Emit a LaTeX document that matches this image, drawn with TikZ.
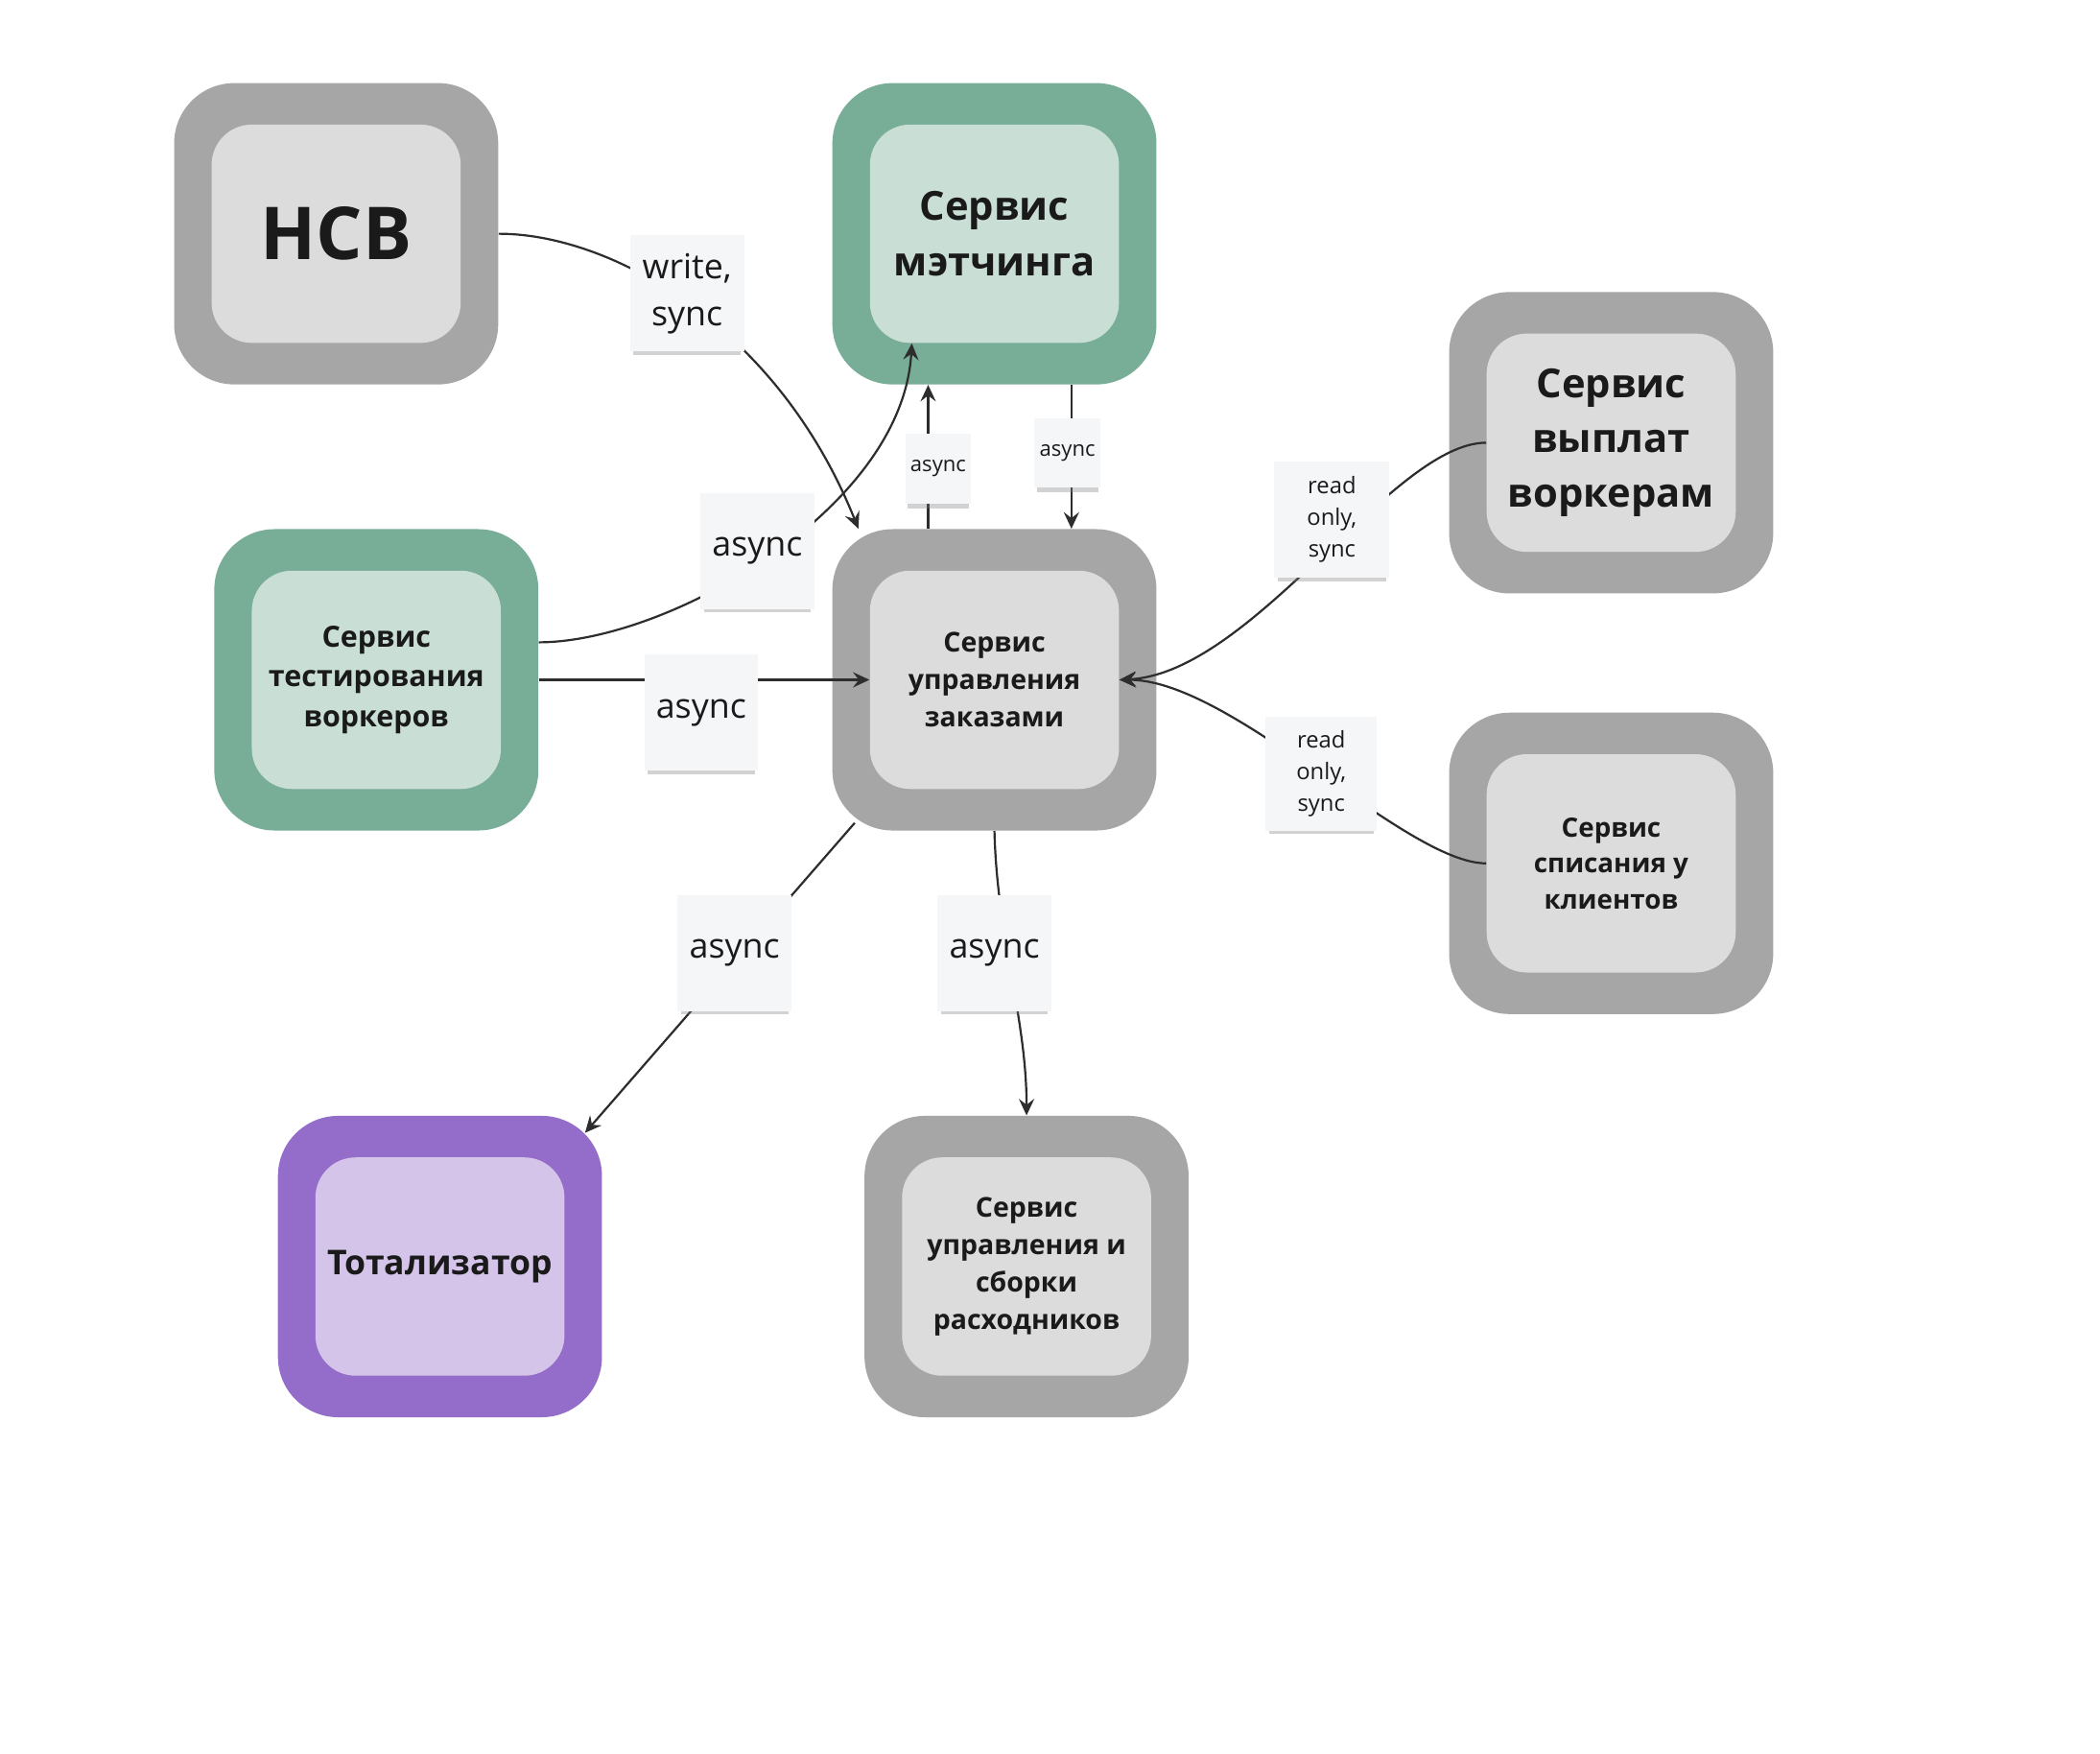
\documentclass[tikz,border=0pt]{standalone}
\usepackage{fontspec}
\setmainfont{Open Sans}
\usetikzlibrary{arrows.meta, shadows, calc}
\definecolor{greyout}{RGB}{166,166,166}
\definecolor{greyin}{RGB}{220,220,220}
\definecolor{greenout}{RGB}{120,173,152}
\definecolor{greenin}{RGB}{201,223,214}
\definecolor{purpleout}{RGB}{148,108,201}
\definecolor{purplein}{RGB}{213,196,233}
\definecolor{notefill}{RGB}{245,246,248}
\definecolor{linecol}{RGB}{45,45,45}
\definecolor{textcol}{RGB}{26,26,26}
\tikzstyle{svcout} = [rectangle, rounded corners=0.9cm, minimum width=4.84cm, minimum height=4.5cm, inner sep=0pt]
\tikzstyle{svcin} = [rectangle, rounded corners=0.6cm, minimum width=3.72cm, minimum height=3.26cm, inner sep=0pt, text centered, align=center, text=textcol]
\tikzstyle{note} = [rectangle, fill=notefill, align=center, text=textcol, inner sep=0pt, drop shadow={shadow xshift=0pt, shadow yshift=-3pt, opacity=0.35, shadow scale=0.94}]
\tikzstyle{bignote} = [note, minimum width=1.7cm, minimum height=1.74cm, font=\fontsize{14.6}{20}\selectfont]
\tikzstyle{smallnote} = [note, minimum width=0.98cm, minimum height=1.04cm, font=\fontsize{9}{12}\selectfont]
\tikzstyle{readnote} = [note, minimum width=1.72cm, minimum height=1.74cm, font=\fontsize{9.7}{13.5}\selectfont]
\tikzstyle{conn} = [linecol, line width=0.9pt]
\tikzstyle{arrow} = [conn, -{Stealth[length=7pt, width=6.5pt, inset=2.5pt]}]

\begin{document}
\begin{tikzpicture}[x=0.02cm, y=-0.02cm]
\useasboundingbox[fill=white] (0,0) rectangle (1568,1309);

\node (hcb) [svcout, fill=greyout] at (251,174.5) {};
\node (hcb-in) [svcin, fill=greyin, font=\bfseries\fontsize{31}{36}\selectfont] at (hcb) {HCB};
\node (match) [svcout, fill=greenout] at (742.5,174.5) {};
\node (match-in) [svcin, fill=greenin, font=\bfseries\fontsize{17}{23.3}\selectfont] at (match) {Сервис\\мэтчинга};
\node (test) [svcout, fill=greenout] at (281,507.5) {};
\node (test-in) [svcin, fill=greenin, font=\bfseries\fontsize{12.4}{17}\selectfont] at (test) {Сервис\\тестирования\\воркеров};
\node (orders) [svcout, fill=greyout] at (742.5,507.5) {};
\node (orders-in) [svcin, fill=greyin, font=\bfseries\fontsize{11.6}{15.9}\selectfont] at (orders) {Сервис\\управления\\заказами};
\node (payout) [svcout, fill=greyout] at (1203,330.5) {};
\node (payout-in) [svcin, fill=greyin, font=\bfseries\fontsize{17}{23.3}\selectfont] at (payout) {Сервис\\выплат\\воркерам};
\node (charge) [svcout, fill=greyout] at (1203,644.5) {};
\node (charge-in) [svcin, fill=greyin, font=\bfseries\fontsize{11.3}{15.3}\selectfont] at (charge) {Сервис\\списания у\\клиентов};
\node (tote) [svcout, fill=purpleout] at (328.5,945.5) {};
\node (tote-in) [svcin, fill=purplein, font=\bfseries\fontsize{14.5}{19}\selectfont] at (tote) {Тотализатор};
\node (supply) [svcout, fill=greyout] at (766.5,945.5) {};
\node (supply-in) [svcin, fill=greyin, font=\bfseries\fontsize{11.6}{15.9}\selectfont] at (supply) {Сервис\\управления и\\сборки\\расходников};

\draw [arrow] (hcb.east) .. controls +(85,0) and +(-60,-150) .. (orders.132);
\draw [arrow] (test.13) .. controls +(96,0) and +(-7,124) .. (match-in.233);
\draw [arrow] (test.east) -- (orders-in.west);
\draw [arrow] ([xshift=-0.99cm]orders.north) -- ([xshift=-0.99cm]match.south);
\draw [arrow] ([xshift=1.15cm]match.south) -- ([xshift=1.15cm]orders.north);
\draw [arrow] (payout-in.west) .. controls +(-70,0) and +(100,-5) .. (orders-in.east);
\draw [arrow] (charge-in.west) .. controls +(-60,0) and +(84,0) .. (orders-in.east);
\draw [arrow] ($(orders.south west)+(17,-6)$) -- ($(tote.north east)+(-13,13)$);
\draw [arrow] (orders.south) .. controls +(2,80) and +(0,-73) .. (supply.north);

\node (lwrite) [bignote] at (513,219) {write,\\sync};
\node (ltestmatch) [bignote] at (565.5,411.5) {async};
\node (ltestorders) [bignote] at (523.5,532) {async};
\node (lup) [smallnote] at (700.5,350) {async};
\node (ldown) [smallnote] at (797,338) {async};
\node (lpayout) [readnote] at (994.5,388) {read\\only,\\sync};
\node (lcharge) [readnote, minimum width=1.66cm, minimum height=1.7cm] at (986.5,577.5) {read\\only,\\sync};
\node (ltote) [bignote] at (548.5,711.5) {async};
\node (lsupply) [bignote] at (742.5,711.5) {async};
\end{tikzpicture}
\end{document}
